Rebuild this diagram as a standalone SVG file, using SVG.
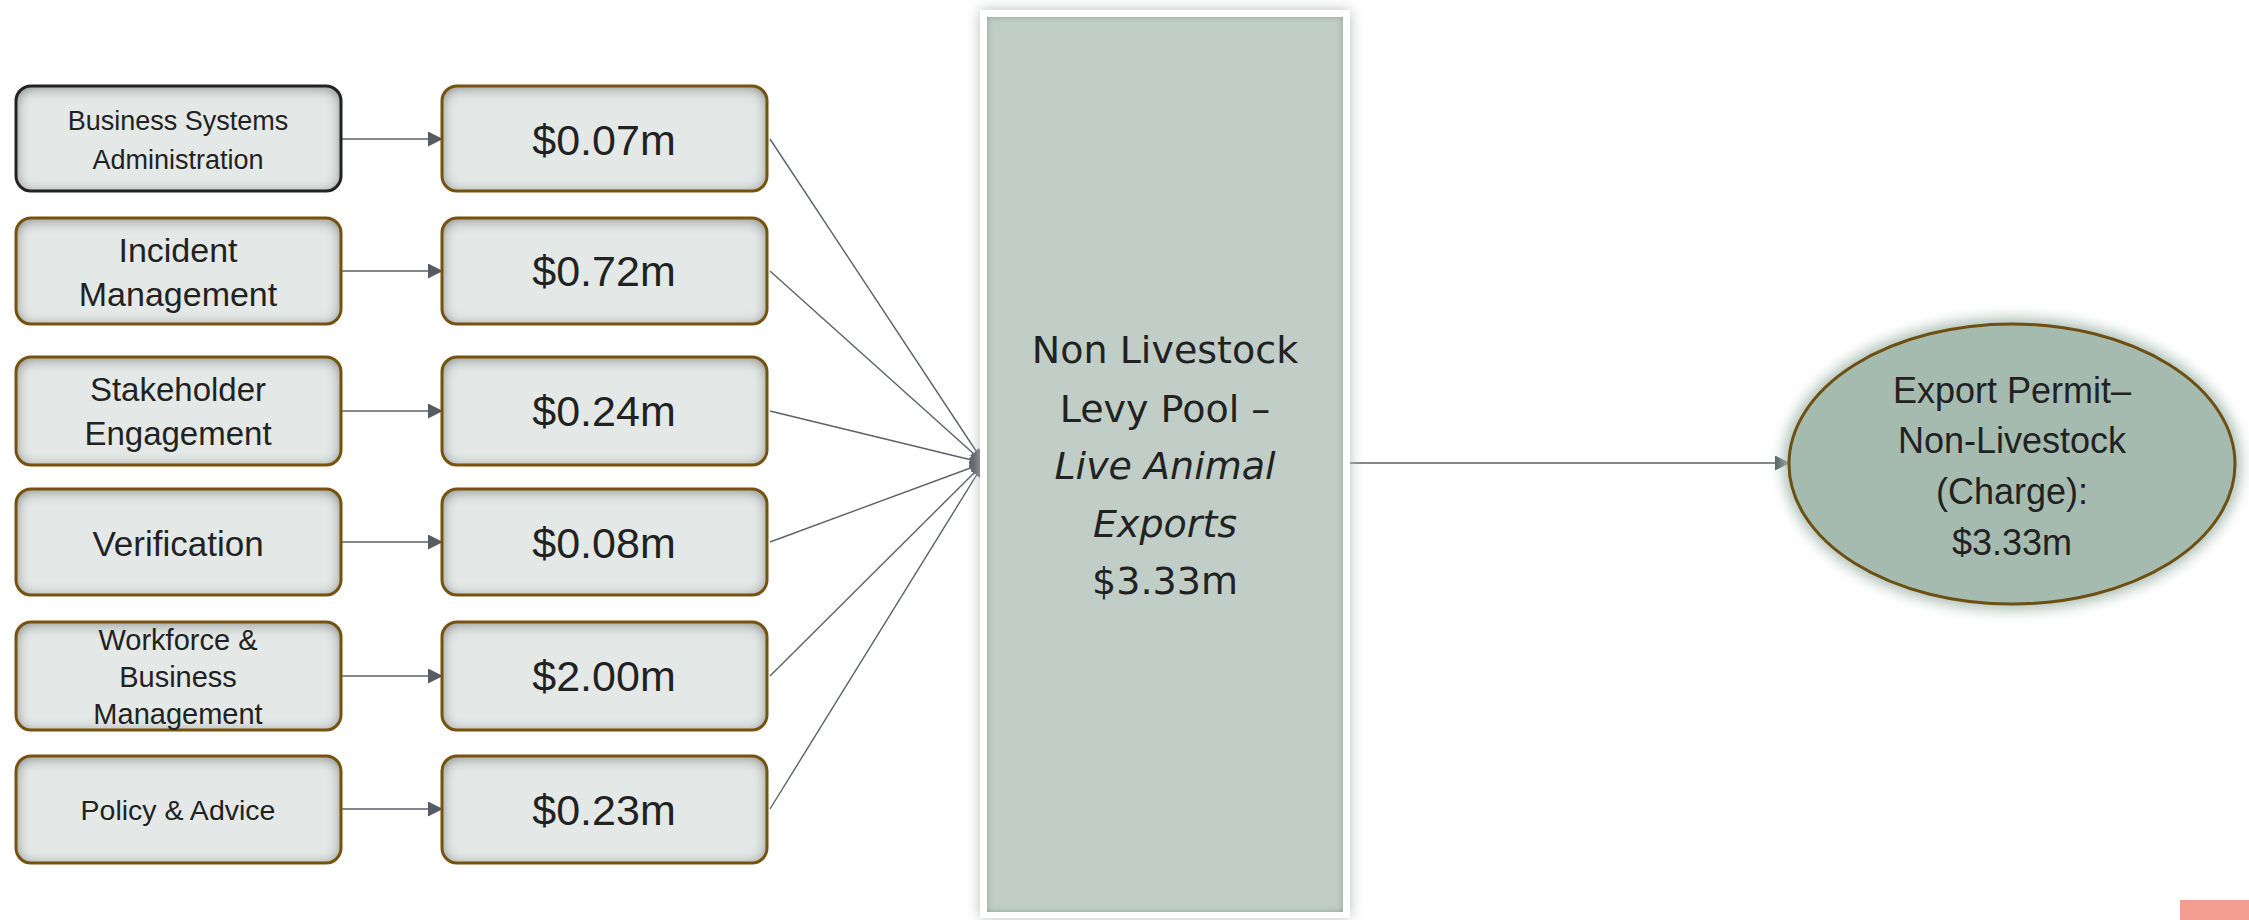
<svg xmlns="http://www.w3.org/2000/svg" width="2249" height="920" viewBox="0 0 2249 920">
<defs>
<style>
.bf{fill:#e4e9e7;filter:url(#inset)}
.bs{fill:none;stroke:#77520f;stroke-width:3}
.bk{stroke:#222}
.t{font-family:"Liberation Sans",Arial,sans-serif;fill:#222;text-anchor:middle}
.m{font-size:43px}
.c{stroke:#5b6168;stroke-width:1.4;fill:none;marker-end:url(#ah)}
.big{font-family:"DejaVu Sans",Verdana,sans-serif;font-size:38px;fill:#222;text-anchor:middle}
</style>
<marker id="ah" markerWidth="15" markerHeight="15" refX="14" refY="7.5" orient="auto" markerUnits="userSpaceOnUse" viewBox="0 0 15 15">
<path d="M0,0 L15,7.5 L0,15 z" fill="#555c63"/>
</marker>
<filter id="inset" x="-5%" y="-10%" width="110%" height="120%">
<feFlood flood-color="#4e5250"/>
<feComposite in2="SourceAlpha" operator="out"/>
<feGaussianBlur stdDeviation="7"/>
<feOffset dy="2"/>
<feComposite in2="SourceAlpha" operator="in" result="sh"/>
<feMerge><feMergeNode in="SourceGraphic"/><feMergeNode in="sh"/></feMerge>
</filter>
<filter id="glow" x="-20%" y="-20%" width="140%" height="140%">
<feGaussianBlur stdDeviation="7"/>
</filter>
<filter id="bev" x="-5%" y="-5%" width="110%" height="110%">
<feFlood flood-color="#8c9c95"/>
<feComposite in2="SourceAlpha" operator="out"/>
<feGaussianBlur stdDeviation="3"/>
<feComposite in2="SourceAlpha" operator="in" result="sh"/>
<feMerge><feMergeNode in="SourceGraphic"/><feMergeNode in="sh"/></feMerge>
</filter>
</defs>
<rect width="2249" height="920" fill="#fff"/>

<g id="connectors">
<path class="c" d="M341,139 H442"/>
<path class="c" d="M341,271 H442"/>
<path class="c" d="M341,411 H442"/>
<path class="c" d="M341,542 H442"/>
<path class="c" d="M341,676 H442"/>
<path class="c" d="M341,809 H442"/>
<path class="c" d="M770,139 L984,463"/>
<path class="c" d="M770,271 L984,463"/>
<path class="c" d="M770,411 L984,463"/>
<path class="c" d="M770,542 L984,463"/>
<path class="c" d="M770,676 L984,463"/>
<path class="c" d="M770,809 L984,463"/>
<path class="c" d="M1348,463 H1789"/>
</g>

<g id="n-bsa">
<rect class="bf" x="16" y="86" width="325" height="105" rx="15"/>
<rect class="bs bk" x="16" y="86" width="325" height="105" rx="15"/>
<text class="t" font-size="27" x="178" y="130">Business Systems</text>
<text class="t" font-size="27" x="178" y="169">Administration</text>
</g>
<g id="n-im">
<rect class="bf" x="16" y="218" width="325" height="106" rx="15"/>
<rect class="bs" x="16" y="218" width="325" height="106" rx="15"/>
<text class="t" font-size="34" x="178" y="262">Incident</text>
<text class="t" font-size="34" x="178" y="306">Management</text>
</g>
<g id="n-se">
<rect class="bf" x="16" y="357" width="325" height="108" rx="15"/>
<rect class="bs" x="16" y="357" width="325" height="108" rx="15"/>
<text class="t" font-size="33" x="178" y="401">Stakeholder</text>
<text class="t" font-size="33" x="178" y="445">Engagement</text>
</g>
<g id="n-ver">
<rect class="bf" x="16" y="489" width="325" height="106" rx="15"/>
<rect class="bs" x="16" y="489" width="325" height="106" rx="15"/>
<text class="t" font-size="35" x="178" y="556">Verification</text>
</g>
<g id="n-wbm">
<rect class="bf" x="16" y="622" width="325" height="108" rx="15"/>
<rect class="bs" x="16" y="622" width="325" height="108" rx="15"/>
<text class="t" font-size="29" x="178" y="650">Workforce &amp;</text>
<text class="t" font-size="29" x="178" y="687">Business</text>
<text class="t" font-size="29" x="178" y="724">Management</text>
</g>
<g id="n-pa">
<rect class="bf" x="16" y="756" width="325" height="107" rx="15"/>
<rect class="bs" x="16" y="756" width="325" height="107" rx="15"/>
<text class="t" font-size="28.5" x="178" y="820">Policy &amp; Advice</text>
</g>

<g id="v1">
<rect class="bf" x="442" y="86" width="325" height="105" rx="15"/>
<rect class="bs" x="442" y="86" width="325" height="105" rx="15"/>
<text class="t m" x="604" y="155">$0.07m</text>
</g>
<g id="v2">
<rect class="bf" x="442" y="218" width="325" height="106" rx="15"/>
<rect class="bs" x="442" y="218" width="325" height="106" rx="15"/>
<text class="t m" x="604" y="286">$0.72m</text>
</g>
<g id="v3">
<rect class="bf" x="442" y="357" width="325" height="108" rx="15"/>
<rect class="bs" x="442" y="357" width="325" height="108" rx="15"/>
<text class="t m" x="604" y="426">$0.24m</text>
</g>
<g id="v4">
<rect class="bf" x="442" y="489" width="325" height="106" rx="15"/>
<rect class="bs" x="442" y="489" width="325" height="106" rx="15"/>
<text class="t m" x="604" y="558">$0.08m</text>
</g>
<g id="v5">
<rect class="bf" x="442" y="622" width="325" height="108" rx="15"/>
<rect class="bs" x="442" y="622" width="325" height="108" rx="15"/>
<text class="t m" x="604" y="691">$2.00m</text>
</g>
<g id="v6">
<rect class="bf" x="442" y="756" width="325" height="107" rx="15"/>
<rect class="bs" x="442" y="756" width="325" height="107" rx="15"/>
<text class="t m" x="604" y="825">$0.23m</text>
</g>

<g id="pool">
<rect x="980" y="10" width="370" height="908" fill="#b9bdbb" filter="url(#glow)"/>
<rect x="980" y="10" width="370" height="908" fill="#fff"/>
<rect x="987" y="17" width="356" height="895" fill="#c0cec7" filter="url(#bev)"/>
<text class="big" x="1165" y="363">Non Livestock</text>
<text class="big" x="1165" y="422">Levy Pool –</text>
<text class="big" x="1165" y="479" font-style="italic">Live Animal</text>
<text class="big" x="1165" y="537" font-style="italic">Exports</text>
<text class="big" x="1165" y="594">$3.33m</text>
</g>

<g id="permit">
<ellipse cx="2012" cy="464" rx="229" ry="146" fill="#a9bdb3" filter="url(#glow)"/>
<ellipse cx="2012" cy="464" rx="223" ry="140" fill="#a5bbb0" stroke="#6e4f12" stroke-width="3"/>
<text class="t" font-size="36" x="2012" y="403">Export Permit–</text>
<text class="t" font-size="36" x="2012" y="453">Non-Livestock</text>
<text class="t" font-size="36" x="2012" y="504">(Charge):</text>
<text class="t" font-size="36" x="2012" y="555">$3.33m</text>
</g>

<rect x="2180" y="900" width="69" height="20" fill="#f29d8f"/>
</svg>
